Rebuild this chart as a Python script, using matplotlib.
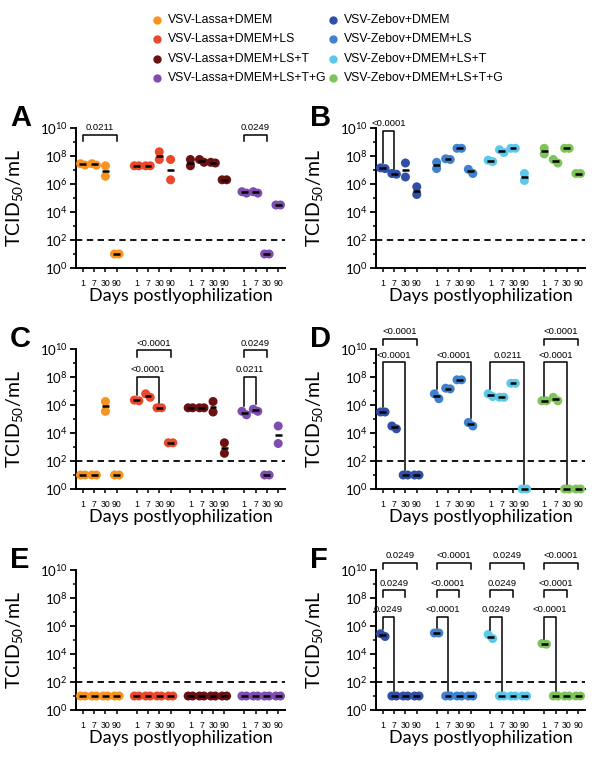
import numpy as np
import matplotlib
matplotlib.use("Agg")
import matplotlib.pyplot as plt
from matplotlib.lines import Line2D

plt.rcParams["font.family"] = ["Lato", "DejaVu Sans"]
plt.rcParams["mathtext.fontset"] = "custom"
plt.rcParams["mathtext.rm"] = "Lato"
plt.rcParams["mathtext.it"] = "Lato:italic"
plt.rcParams["mathtext.bf"] = "Lato:bold"

ARIAL = ["Liberation Sans", "DejaVu Sans"]

# Beschriftungen / Gruppen
days = ["1", "7", "30", "90"]
lassa_names = ["VSV-Lassa+DMEM", "VSV-Lassa+DMEM+LS", "VSV-Lassa+DMEM+LS+T", "VSV-Lassa+DMEM+LS+T+G"]
zebov_names = ["VSV-Zebov+DMEM", "VSV-Zebov+DMEM+LS", "VSV-Zebov+DMEM+LS+T", "VSV-Zebov+DMEM+LS+T+G"]
lassa_colors = ["#F7931E", "#E8492B", "#6B1111", "#7E4DAF"]
zebov_colors = ["#2F4EA6", "#3E82CF", "#5CC9EC", "#7DC45B"]

# Werte: log10 TCID50/mL, 2 Replikate je Tag (1, 7, 30, 90), je Gruppe
A_vals = [[[7.45, 7.35], [7.45, 7.35], [7.3, 6.55], [1, 1]],
          [[7.3, 7.3], [7.3, 7.3], [8.3, 7.75], [7.75, 6.3]],
          [[7.75, 7.3], [7.75, 7.55], [7.55, 7.5], [6.3, 6.3]],
          [[5.45, 5.35], [5.45, 5.35], [1, 1], [4.5, 4.5]]]
B_vals = [[[7.15, 7.1], [6.75, 6.7], [7.5, 6.5], [5.8, 5.25]],
          [[7.55, 7.1], [7.8, 7.75], [8.55, 8.55], [7.05, 6.75]],
          [[7.7, 7.6], [8.45, 8.25], [8.55, 8.55], [6.75, 6.25]],
          [[8.55, 8.15], [7.75, 7.5], [8.55, 8.55], [6.75, 6.75]]]
C_vals = [[[1, 1], [1, 1], [6.25, 5.55], [1, 1]],
          [[6.35, 6.3], [6.8, 6.55], [5.8, 5.8], [3.3, 3.3]],
          [[5.8, 5.8], [5.8, 5.8], [6.25, 5.5], [3.3, 2.55]],
          [[5.55, 5.3], [5.7, 5.55], [1, 1], [4.5, 3.25]]]
D_vals = [[[5.5, 5.5], [4.5, 4.3], [1, 1], [1, 1]],
          [[6.8, 6.45], [7.2, 7.15], [7.8, 7.8], [4.75, 4.5]],
          [[6.8, 6.6], [6.55, 6.55], [7.55, 7.55], [0, 0]],
          [[6.3, 6.3], [6.55, 6.3], [0, 0], [0, 0]]]
E_vals = [[[1, 1], [1, 1], [1, 1], [1, 1]],
          [[1, 1], [1, 1], [1, 1], [1, 1]],
          [[1, 1], [1, 1], [1, 1], [1, 1]],
          [[1, 1], [1, 1], [1, 1], [1, 1]]]
F_vals = [[[5.45, 5.25], [1, 1], [1, 1], [1, 1]],
          [[5.5, 5.5], [1, 1], [1, 1], [1, 1]],
          [[5.4, 5.1], [1, 1], [1, 1], [1, 1]],
          [[4.75, 4.7], [1, 1], [1, 1], [1, 1]]]

# Signifikanz-Klammern: (Gruppe, Tag-Index links, Tag-Index rechts, Höhe log10, p-Wert, lange Beine)
A_brackets = [(0, 0, 3, 9.5, "0.0211", False), (3, 0, 2, 9.5, "0.0249", False)]
B_brackets = [(0, 0, 1, 9.8, "<0.0001", True)]
C_brackets = [(1, 0, 3, 9.9, "<0.0001", False), (1, 0, 2, 8.0, "<0.0001", True),
              (3, 0, 2, 9.9, "0.0249", False), (3, 0, 1, 8.0, "0.0211", True)]
D_brackets = [(0, 0, 3, 10.75, "<0.0001", False), (0, 0, 2, 9.05, "<0.0001", True),
              (1, 0, 3, 9.05, "<0.0001", True), (2, 0, 3, 9.05, "0.0211", True),
              (3, 0, 3, 10.75, "<0.0001", False), (3, 0, 2, 9.05, "<0.0001", True)]
F_pvals = ["0.0249", "<0.0001", "0.0249", "<0.0001"]
F_brackets = []
for g, p in enumerate(F_pvals):
    F_brackets += [(g, 0, 3, 10.5, p, False), (g, 0, 2, 8.55, p, False), (g, 0, 1, 6.65, p, True)]

W, H = 600, 763
fig = plt.figure(figsize=(6, 7.63), dpi=100)

GAP = 4.75  # Abstand zwischen Gruppen


def xpos(g, i):
    return g * GAP + i


def draw_panel(rect, vals, colors, brackets, letter):
    l, t, w, h = rect
    ax = fig.add_axes([l / W, 1 - (t + h) / H, w / W, h / H])
    for g, group in enumerate(vals):
        for i, reps in enumerate(group):
            x = xpos(g, i)
            reps = np.array(reps, dtype=float)
            if abs(reps.max() - reps.min()) < 0.4:
                offs = np.linspace(-0.2, 0.2, len(reps))
            else:
                offs = np.zeros(len(reps))
            ax.scatter(x + offs, 10 ** reps, s=42, color=colors[g], edgecolors="none",
                       zorder=3, clip_on=False)
            m = 10 ** reps.mean()
            ax.plot([x - 0.3, x + 0.3], [m, m], color="black", lw=1.8, zorder=4,
                    solid_capstyle="butt", clip_on=False)
    for g, i, j, hgt, lab, long_legs in brackets:
        x1, x2 = xpos(g, i), xpos(g, j)
        if long_legs:
            b1 = max(vals[g][i]) + 0.35
            b2 = max(vals[g][j]) + 0.35
        else:
            b1 = b2 = hgt - 0.45
        ax.plot([x1, x1, x2, x2], [10 ** b1, 10 ** hgt, 10 ** hgt, 10 ** b2],
                color="black", lw=1.1, clip_on=False, zorder=5)
        ax.text((x1 + x2) / 2, 10 ** (hgt + 0.2), lab, ha="center", va="bottom",
                fontsize=6.8, family=ARIAL, clip_on=False)

    ax.axhline(100, color="black", lw=1.3, ls=(0, (3.5, 2.5)), zorder=2)
    ax.set_yscale("log")
    ax.set_ylim(1, 1e10)
    ax.set_yticks([10.0 ** k for k in range(0, 11, 2)])
    ax.set_yticks([10.0 ** k for k in range(1, 10, 2)], minor=True)
    ax.yaxis.set_minor_formatter(plt.NullFormatter())
    ax.set_xlim(-0.6, 3 * GAP + 3.6)
    ax.set_xticks([xpos(g, i) for g in range(4) for i in range(4)])
    ax.set_xticklabels(days * 4, fontsize=6.3, family=ARIAL)
    ax.tick_params(axis="y", which="major", length=4, width=1.3, labelsize=9.5, pad=2)
    ax.tick_params(axis="y", which="minor", length=2.5, width=1.1)
    ax.tick_params(axis="x", length=3, width=1.1, pad=5)
    for s in ["top", "right"]:
        ax.spines[s].set_visible(False)
    for s in ["left", "bottom"]:
        ax.spines[s].set_linewidth(1.4)
    ax.set_ylabel("TCID$_{50}$/mL", fontsize=14)
    ax.yaxis.set_label_coords(-0.245, 0.5)
    ax.set_xlabel("Days postlyophilization", fontsize=13)
    ax.xaxis.set_label_coords(0.5, -0.145)
    ax.patch.set_alpha(0)
    fig.text((l - 66) / W, 1 - (t - 24) / H, letter, fontsize=21, fontweight="bold",
             family=ARIAL, va="top", ha="left")
    return ax


draw_panel((76, 128, 209, 140), A_vals, lassa_colors, A_brackets, "A")
draw_panel((376, 128, 209, 140), B_vals, zebov_colors, B_brackets, "B")
draw_panel((76, 349, 209, 140), C_vals, lassa_colors, C_brackets, "C")
draw_panel((376, 349, 209, 140), D_vals, zebov_colors, D_brackets, "D")
draw_panel((76, 570, 209, 140), E_vals, lassa_colors, [], "E")
draw_panel((376, 570, 209, 140), F_vals, zebov_colors, F_brackets, "F")

# Legende oben, zwei Spalten
for col, (names, colors, xm) in enumerate([(lassa_names, lassa_colors, 157),
                                             (zebov_names, zebov_colors, 333)]):
    for r, (nm, c) in enumerate(zip(names, colors)):
        y = 1 - (20 + 19.3 * r) / H
        fig.add_artist(Line2D([xm / W], [y], marker="o", markersize=5, color=c, lw=0))
        fig.text((xm + 11) / W, y, nm, fontsize=8.8, family=ARIAL, va="center", ha="left")

fig.savefig("out.png", dpi=100)
